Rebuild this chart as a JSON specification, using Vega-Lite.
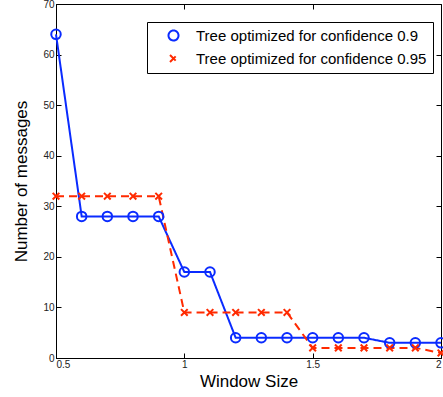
{
  "$schema": "https://vega.github.io/schema/vega-lite/v6.json",
  "width": 385,
  "height": 354,
  "autosize": "none",
  "padding": {"left": 56, "top": 4, "right": 2, "bottom": 39},
  "config": {
    "view": {"stroke": "black", "strokeWidth": 1},
    "font": "Liberation Sans",
    "axis": {
      "grid": false,
      "domainColor": "black",
      "domainWidth": 1,
      "tickColor": "black",
      "tickSize": -5,
      "labelColor": "#222",
      "labelFontSize": 10,
      "titleColor": "black",
      "titleFontSize": 17,
      "titleFontWeight": "normal"
    }
  },
  "data": {
    "values": [
      {"window": 0.5, "messages": 64, "series": "Tree optimized for confidence 0.9"},
      {"window": 0.6, "messages": 28, "series": "Tree optimized for confidence 0.9"},
      {"window": 0.7, "messages": 28, "series": "Tree optimized for confidence 0.9"},
      {"window": 0.8, "messages": 28, "series": "Tree optimized for confidence 0.9"},
      {"window": 0.9, "messages": 28, "series": "Tree optimized for confidence 0.9"},
      {"window": 1.0, "messages": 17, "series": "Tree optimized for confidence 0.9"},
      {"window": 1.1, "messages": 17, "series": "Tree optimized for confidence 0.9"},
      {"window": 1.2, "messages": 4, "series": "Tree optimized for confidence 0.9"},
      {"window": 1.3, "messages": 4, "series": "Tree optimized for confidence 0.9"},
      {"window": 1.4, "messages": 4, "series": "Tree optimized for confidence 0.9"},
      {"window": 1.5, "messages": 4, "series": "Tree optimized for confidence 0.9"},
      {"window": 1.6, "messages": 4, "series": "Tree optimized for confidence 0.9"},
      {"window": 1.7, "messages": 4, "series": "Tree optimized for confidence 0.9"},
      {"window": 1.8, "messages": 3, "series": "Tree optimized for confidence 0.9"},
      {"window": 1.9, "messages": 3, "series": "Tree optimized for confidence 0.9"},
      {"window": 2.0, "messages": 3, "series": "Tree optimized for confidence 0.9"},
      {"window": 0.5, "messages": 32, "series": "Tree optimized for confidence 0.95"},
      {"window": 0.6, "messages": 32, "series": "Tree optimized for confidence 0.95"},
      {"window": 0.7, "messages": 32, "series": "Tree optimized for confidence 0.95"},
      {"window": 0.8, "messages": 32, "series": "Tree optimized for confidence 0.95"},
      {"window": 0.9, "messages": 32, "series": "Tree optimized for confidence 0.95"},
      {"window": 1.0, "messages": 9, "series": "Tree optimized for confidence 0.95"},
      {"window": 1.1, "messages": 9, "series": "Tree optimized for confidence 0.95"},
      {"window": 1.2, "messages": 9, "series": "Tree optimized for confidence 0.95"},
      {"window": 1.3, "messages": 9, "series": "Tree optimized for confidence 0.95"},
      {"window": 1.4, "messages": 9, "series": "Tree optimized for confidence 0.95"},
      {"window": 1.5, "messages": 2, "series": "Tree optimized for confidence 0.95"},
      {"window": 1.6, "messages": 2, "series": "Tree optimized for confidence 0.95"},
      {"window": 1.7, "messages": 2, "series": "Tree optimized for confidence 0.95"},
      {"window": 1.8, "messages": 2, "series": "Tree optimized for confidence 0.95"},
      {"window": 1.9, "messages": 2, "series": "Tree optimized for confidence 0.95"},
      {"window": 2.0, "messages": 1, "series": "Tree optimized for confidence 0.95"}
    ]
  },
  "encoding": {
    "x": {
      "field": "window",
      "type": "quantitative",
      "scale": {"domain": [0.5, 2], "nice": false, "zero": false}
    },
    "y": {
      "field": "messages",
      "type": "quantitative",
      "scale": {"domain": [0, 70], "nice": false}
    }
  },
  "layer": [
    {
      "encoding": {
        "x": {
          "field": "window",
          "type": "quantitative",
          "axis": {"values": [0.5, 1, 1.5, 2], "title": "Window Size", "labelPadding": 6, "titlePadding": 4, "format": "~g"}
        },
        "y": {
          "field": "messages",
          "type": "quantitative",
          "axis": {"values": [0, 10, 20, 30, 40, 50, 60, 70], "title": "Number of messages", "labelPadding": 7, "titlePadding": 12}
        }
      },
      "layer": [
        {
          "mark": {"type": "line", "strokeWidth": 2},
          "encoding": {
            "color": {
              "field": "series",
              "type": "nominal",
              "scale": {"domain": ["Tree optimized for confidence 0.9", "Tree optimized for confidence 0.95"], "range": ["#0a2bff", "#ff2a00"]},
              "legend": {
                "title": null,
                "orient": "none",
                "legendX": 91,
                "legendY": 18,
                "strokeColor": "black",
                "fillColor": "white",
                "padding": 6,
                "labelFontSize": 15,
                "labelColor": "black",
                "labelLimit": 0,
                "labelOffset": 15,
                "symbolOffset": 13,
                "symbolSize": 100,
                "symbolStrokeWidth": 2,
                "symbolFillColor": "transparent",
                "symbolDash": [1, 0],
                "rowPadding": 6,
                "symbolType": {"expr": "indexof(datum.value, '0.95') >= 0 ? 'M-3.3,0L-2.1,0M1.9,0L3.1,0M-0.45,-0.45L0.45,0.45M-0.45,0.45L0.45,-0.45' : 'M-3.4,0L-0.7,0M0.7,0L3.4,0M-0.7,0A0.7,0.7 0 1,0 0.7,0A0.7,0.7 0 1,0 -0.7,0'"}
              }
            },
            "strokeDash": {
              "field": "series",
              "type": "nominal",
              "legend": null,
              "scale": {"domain": ["Tree optimized for confidence 0.9", "Tree optimized for confidence 0.95"], "range": [[1, 0], [8, 5]]}
            }
          }
        },
        {
          "mark": {"type": "point", "filled": false, "strokeWidth": 2, "size": 90, "opacity": 1},
          "encoding": {
            "color": {
              "field": "series",
              "type": "nominal",
              "legend": null
            },
            "shape": {
              "field": "series",
              "type": "nominal",
              "legend": null,
              "scale": {"domain": ["Tree optimized for confidence 0.9", "Tree optimized for confidence 0.95"], "range": ["circle", "M-0.7,-0.7L0.7,0.7M-0.7,0.7L0.7,-0.7"]}
            }
          }
        }
      ]
    },
    {
      "mark": {"type": "point", "opacity": 0},
      "encoding": {
        "x": {"field": "window", "type": "quantitative", "axis": {"orient": "top", "values": [0.5, 1, 1.5, 2], "labels": false, "title": null, "domain": false, "tickSize": -5, "zindex": 1}},
        "y": {"field": "messages", "type": "quantitative", "axis": {"orient": "right", "values": [0, 10, 20, 30, 40, 50, 60, 70], "labels": false, "title": null, "domain": false, "tickSize": -5, "zindex": 1}},
        "color": {"value": "black"}
      }
    }
  ],
  "resolve": {"axis": {"x": "independent", "y": "independent"}}
}
